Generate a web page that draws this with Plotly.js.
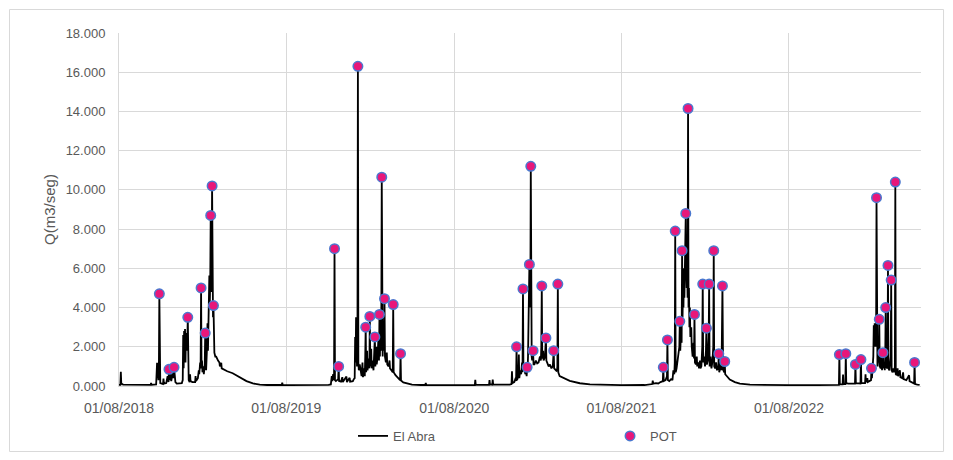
<!DOCTYPE html>
<html>
<head>
<meta charset="utf-8">
<script src="https://cdn.plot.ly/plotly-3.0.1.min.js"></script>
<style>
  html, body { margin: 0; padding: 0; background: #ffffff; }
  #chart { width: 953px; height: 460px; }
</style>
</head>
<body>
<div id="chart"></div>
<script>
// ---- El Abra daily discharge (key points), by hydrological year ----
const abraDates1 = ['2018-08-01','2018-08-04','2018-08-05','2018-08-06','2018-08-10','2018-09-15','2018-10-09','2018-10-10','2018-10-11','2018-10-21','2018-10-23','2018-10-24','2018-10-25','2018-10-26','2018-10-27','2018-10-28','2018-10-29','2018-10-30',
  '2018-11-05','2018-11-06','2018-11-07','2018-11-12','2018-11-15','2018-11-17','2018-11-18','2018-11-19','2018-11-21','2018-11-23','2018-11-26','2018-11-28','2018-11-29','2018-11-30','2018-12-02','2018-12-05','2018-12-16','2018-12-18','2018-12-19','2018-12-20','2018-12-21','2018-12-22','2018-12-23','2018-12-24','2018-12-25','2018-12-27','2018-12-28','2018-12-29','2018-12-30','2018-12-31',
  '2019-01-02','2019-01-03','2019-01-04','2019-01-08','2019-01-14','2019-01-15','2019-01-16','2019-01-20','2019-01-22','2019-01-23','2019-01-25','2019-01-26','2019-01-27','2019-01-28','2019-01-29','2019-01-30','2019-02-01','2019-02-02','2019-02-04','2019-02-05','2019-02-06','2019-02-07','2019-02-09','2019-02-10','2019-02-11','2019-02-12','2019-02-13','2019-02-14','2019-02-15','2019-02-16','2019-02-17','2019-02-18','2019-02-19','2019-02-20','2019-02-21','2019-02-22','2019-02-23','2019-02-24','2019-02-25','2019-02-27',
  '2019-03-01','2019-03-05','2019-03-08','2019-03-09','2019-03-12','2019-03-13','2019-03-17','2019-03-25','2019-04-06','2019-04-20','2019-05-06','2019-05-20','2019-06-04','2019-06-20','2019-07-22','2019-07-23','2019-07-24'];
const abraQ1 = [60,60,730,120,70,50,60,150,60,80,1180,400,1150,300,900,4700,300,150,
  100,380,120,150,500,200,850,300,600,250,700,400,950,500,200,120,150,300,2600,900,2800,1500,2900,1200,2700,1800,2200,3500,800,300,
  200,600,250,200,200,500,250,400,800,600,1200,900,5000,900,1300,700,1000,600,1100,2700,1300,800,2000,3200,1800,4500,3000,5630,4200,5400,8700,4800,6000,10200,5000,3500,4100,2500,1700,1500,
  1500,1300,1200,1000,1180,900,850,750,650,450,250,130,70,50,50,170,50];

const abraDates2 = ['2019-08-01','2019-09-15','2019-10-20','2019-11-01','2019-11-06','2019-11-08','2019-11-09','2019-11-11','2019-11-12','2019-11-13','2019-11-14','2019-11-15','2019-11-17','2019-11-20','2019-11-22','2019-11-23','2019-11-24','2019-11-28',
  '2019-12-01','2019-12-02','2019-12-10','2019-12-11','2019-12-17','2019-12-18','2019-12-24','2019-12-26','2019-12-28','2019-12-29','2019-12-30','2019-12-31','2020-01-01','2020-01-02','2020-01-03','2020-01-04','2020-01-05','2020-01-06','2020-01-08','2020-01-10',
  '2020-01-12','2020-01-14','2020-01-15','2020-01-18','2020-01-19','2020-01-20','2020-01-21','2020-01-22','2020-01-24','2020-01-25','2020-01-27','2020-01-29','2020-01-30','2020-01-31',
  '2020-02-02','2020-02-03','2020-02-05','2020-02-07','2020-02-09','2020-02-10','2020-02-11','2020-02-13','2020-02-14','2020-02-16','2020-02-18','2020-02-19','2020-02-20','2020-02-21','2020-02-22','2020-02-23','2020-02-24','2020-02-25','2020-02-26','2020-02-27','2020-02-28',
  '2020-03-01','2020-03-02','2020-03-03','2020-03-05','2020-03-07','2020-03-08','2020-03-11','2020-03-13','2020-03-14','2020-03-17','2020-03-20','2020-03-21','2020-03-22','2020-03-26','2020-03-30','2020-04-03','2020-04-05','2020-04-06','2020-04-07','2020-04-12','2020-04-21','2020-05-01','2020-05-20','2020-05-30','2020-05-31','2020-06-01','2020-07-31'];
const abraQ2 = [45,40,50,60,80,500,250,600,300,400,7000,300,250,300,350,1000,250,220,
  450,200,480,200,420,220,250,350,400,2500,1200,3500,1800,1000,1500,16300,1200,800,1100,600,
  500,1200,450,900,500,1500,3000,700,1800,800,1400,900,3550,1000,
  1900,900,1300,800,1600,2500,1000,2000,1100,1500,2600,1300,3650,1500,2800,1800,3000,10650,2000,1500,2500,
  1800,4450,1500,1200,1700,1100,1000,1300,900,800,700,4150,700,550,450,350,300,1650,280,180,110,70,50,50,150,50,40];

const abraDates3 = ['2020-08-01','2020-09-15','2020-09-16','2020-09-17','2020-10-16','2020-10-17','2020-10-18','2020-10-23','2020-10-24','2020-10-25','2020-11-30','2020-12-04','2020-12-05','2020-12-06','2020-12-10','2020-12-13','2020-12-14','2020-12-15','2020-12-16','2020-12-19','2020-12-20','2020-12-21','2020-12-23','2020-12-25','2020-12-27','2020-12-28','2020-12-29','2020-12-30',
  '2021-01-01','2021-01-03','2021-01-05','2021-01-06','2021-01-07','2021-01-08','2021-01-09','2021-01-10','2021-01-11','2021-01-12','2021-01-13','2021-01-14','2021-01-15','2021-01-16','2021-01-17','2021-01-18','2021-01-20','2021-01-21','2021-01-23','2021-01-26','2021-01-29',
  '2021-02-01','2021-02-04','2021-02-06','2021-02-07','2021-02-08','2021-02-09','2021-02-11','2021-02-12','2021-02-15','2021-02-16','2021-02-17','2021-02-18','2021-02-20','2021-02-23','2021-02-26',
  '2021-03-01','2021-03-04','2021-03-05','2021-03-06','2021-03-07','2021-03-10','2021-03-13','2021-03-14','2021-03-15','2021-03-16','2021-03-19','2021-04-10','2021-05-02','2021-05-24','2021-06-15','2021-07-31'];
const abraQ3 = [40,50,320,60,60,300,80,60,330,70,70,100,750,150,200,400,250,2000,300,500,1600,400,800,600,1200,700,4950,800,
  1000,600,700,500,950,800,1500,3500,5000,6200,5500,4000,11200,2500,1500,1300,1800,1100,1100,1300,1150,
  1200,1500,1300,2000,5100,1400,1800,1300,1500,2000,2450,1300,1200,1000,1100,
  900,1000,1300,1800,900,800,750,1000,5200,700,500,260,140,80,60,45];

const abraDates4 = ['2021-08-01','2021-09-20','2021-10-07','2021-10-08','2021-10-09','2021-10-15','2021-10-20','2021-10-25','2021-10-30','2021-10-31','2021-11-01','2021-11-05','2021-11-08','2021-11-09','2021-11-10','2021-11-13','2021-11-17','2021-11-20','2021-11-22','2021-11-24','2021-11-25','2021-11-26','2021-11-27','2021-11-29',
  '2021-12-01','2021-12-03','2021-12-05','2021-12-06','2021-12-07','2021-12-09','2021-12-10','2021-12-11','2021-12-12','2021-12-13','2021-12-14','2021-12-15','2021-12-16','2021-12-17','2021-12-18','2021-12-19','2021-12-20','2021-12-21','2021-12-22','2021-12-23','2021-12-24','2021-12-25','2021-12-26','2021-12-27','2021-12-28','2021-12-29','2021-12-31',
  '2022-01-01','2022-01-03','2022-01-05','2022-01-06','2022-01-07','2022-01-08','2022-01-10','2022-01-12','2022-01-13','2022-01-15','2022-01-17','2022-01-19','2022-01-20','2022-01-22','2022-01-24','2022-01-25','2022-01-26','2022-01-28','2022-01-30',
  '2022-02-01','2022-02-02','2022-02-03','2022-02-05','2022-02-07','2022-02-08','2022-02-09','2022-02-11','2022-02-13','2022-02-15','2022-02-17','2022-02-18','2022-02-19','2022-02-21','2022-02-23','2022-02-25','2022-02-28',
  '2022-03-01','2022-03-02','2022-03-04','2022-03-06','2022-03-07','2022-03-08','2022-03-09','2022-03-10','2022-03-11','2022-03-13','2022-03-14','2022-03-15','2022-03-20','2022-03-25','2022-04-05','2022-04-16','2022-05-08','2022-06-10','2022-07-31'];
const abraQ4 = [45,50,100,270,120,150,130,200,250,950,250,300,500,2350,300,250,350,300,800,600,1200,7900,700,900,
  1200,1500,2000,3300,1800,3000,2200,6900,3500,5000,4000,6000,4500,6500,5500,8800,6000,5000,6200,4500,14150,4000,5000,3000,4000,2500,3000,
  2000,1500,2200,1400,3650,1200,1100,1500,1000,1200,900,1300,900,1000,2000,5200,1200,1500,1000,
  1800,2950,1100,1300,2500,5200,1000,1500,900,1200,2000,6900,1000,900,1200,800,1000,
  1650,700,900,1300,800,2500,5100,2000,800,700,1250,600,450,330,200,120,70,50,45];

const abraDates5 = ['2022-08-01','2022-10-01','2022-11-10','2022-11-18','2022-11-19','2022-11-20','2022-11-26','2022-11-27','2022-11-28','2022-12-02','2022-12-03','2022-12-04','2022-12-08','2022-12-23','2022-12-24','2022-12-25',
  '2023-01-04','2023-01-05','2023-01-06','2023-01-14','2023-01-15','2023-01-16','2023-01-19','2023-01-20','2023-01-27','2023-01-28','2023-01-29',
  '2023-02-01','2023-02-02','2023-02-03','2023-02-04','2023-02-05','2023-02-06','2023-02-07','2023-02-08','2023-02-09','2023-02-10','2023-02-12','2023-02-13','2023-02-14','2023-02-15','2023-02-17','2023-02-19','2023-02-20','2023-02-22','2023-02-23','2023-02-25','2023-02-26','2023-02-27','2023-02-28',
  '2023-03-01','2023-03-03','2023-03-04','2023-03-05','2023-03-06','2023-03-08','2023-03-10','2023-03-11','2023-03-12','2023-03-13','2023-03-15','2023-03-17','2023-03-19','2023-03-20','2023-03-21','2023-03-22','2023-03-24','2023-03-26','2023-03-27','2023-03-31','2023-04-01','2023-04-05','2023-04-07','2023-04-08','2023-04-14','2023-04-20','2023-04-21','2023-04-26','2023-05-01','2023-05-02','2023-05-03','2023-05-08','2023-05-13'];
const abraQ5 = [45,45,50,60,1600,80,80,580,100,100,1650,150,120,120,1100,150,
  130,1350,150,150,600,200,400,200,300,900,400,
  1500,3100,2000,3200,2500,3000,2000,9600,1500,1000,1500,1200,3400,1000,900,1500,800,1700,900,1200,800,1500,4000,
  1000,900,1500,6150,900,800,1200,1500,5400,800,700,900,700,1000,10400,600,550,900,500,800,450,400,700,350,300,550,250,180,130,1200,100,70,60];

// ---- POT (peaks over threshold) ----
const potDates = ['2018-10-28','2018-11-18','2018-11-29','2018-12-29','2019-01-27','2019-02-05','2019-02-17','2019-02-20','2019-02-23',
  '2019-11-14','2019-11-23','2020-01-04','2020-01-21','2020-01-30','2020-02-10','2020-02-20','2020-02-25','2020-03-02','2020-03-21','2020-04-06',
  '2020-12-15','2020-12-29','2021-01-07','2021-01-12','2021-01-15','2021-01-20','2021-02-08','2021-02-17','2021-03-06','2021-03-15',
  '2021-10-31','2021-11-09','2021-11-26','2021-12-06','2021-12-11','2021-12-19','2021-12-24','2022-01-07','2022-01-25','2022-02-02','2022-02-08','2022-02-18','2022-03-01','2022-03-09','2022-03-14',
  '2022-11-19','2022-12-03','2022-12-24','2023-01-05','2023-01-28','2023-02-08','2023-02-14','2023-02-22','2023-02-28','2023-03-05','2023-03-12','2023-03-21','2023-05-02'];
const potQ = [4700,850,950,3500,5000,2700,8700,10200,4100,
  7000,1000,16300,3000,3550,2500,3650,10650,4450,4150,1650,
  2000,4950,950,6200,11200,1800,5100,2450,1800,5200,
  950,2350,7900,3300,6900,8800,14150,3650,5200,2950,5200,6900,1650,5100,1250,
  1600,1650,1100,1350,900,9600,3400,1700,4000,6150,5400,10400,1200];

// ---- axes ----
const xTickVals = ['2018-08-01','2019-08-01','2020-08-01','2021-08-01','2022-08-01'];
const xTickText = ['01/08/2018','01/08/2019','01/08/2020','01/08/2021','01/08/2022'];
const yTickVals = [0,2000,4000,6000,8000,10000,12000,14000,16000,18000];
const yTickText = ['0.000','2.000','4.000','6.000','8.000','10.000','12.000','14.000','16.000','18.000'];

const abraDates = [].concat(abraDates1, abraDates2, abraDates3, abraDates4, abraDates5);
const abraQ = [].concat(abraQ1, abraQ2, abraQ3, abraQ4, abraQ5);

const FONT = 'Liberation Sans, Arial, sans-serif';
const TXT = '#595959';
const GRID = '#d9d9d9';

const traces = [
  {
    type: 'scatter', mode: 'lines', name: 'El Abra',
    x: abraDates, y: abraQ,
    line: {color: '#000000', width: 1.8}
  },
  {
    type: 'scatter', mode: 'markers', name: 'POT',
    x: potDates, y: potQ,
    marker: {color: '#e8177a', size: 9.5, line: {color: '#4a78cf', width: 1.5}}
  }
];

const layout = {
  width: 953, height: 460,
  margin: {l: 119, r: 32, t: 33, b: 74, autoexpand: false},
  paper_bgcolor: '#ffffff', plot_bgcolor: '#ffffff',
  font: {family: FONT, color: TXT, size: 13},
  showlegend: true,
  legend: {
    orientation: 'h', x: 0.2918, xanchor: 'left', y: -0.099, yanchor: 'top',
    entrywidth: 212, entrywidthmode: 'pixels',
    font: {family: FONT, color: TXT, size: 13},
    bgcolor: 'rgba(0,0,0,0)'
  },
  xaxis: {
    type: 'date',
    range: ['2018-08-01', '2023-05-16'],
    tickmode: 'array', tickvals: xTickVals, ticktext: xTickText,
    showgrid: true, gridcolor: GRID, gridwidth: 1,
    showline: true, linecolor: GRID, linewidth: 1,
    ticks: '', ticklabelstandoff: 9,
    tickfont: {family: FONT, color: TXT, size: 14},
    zeroline: false, automargin: false
  },
  yaxis: {
    range: [0, 18000],
    tickmode: 'array', tickvals: yTickVals, ticktext: yTickText,
    showgrid: true, gridcolor: GRID, gridwidth: 1,
    showline: true, linecolor: GRID, linewidth: 1,
    ticks: '', ticklabelstandoff: 10,
    tickfont: {family: FONT, color: TXT, size: 13},
    zeroline: false, automargin: false,
    title: {text: 'Q(m3/seg)', font: {family: FONT, color: TXT, size: 15}, standoff: 6}
  },
  shapes: [
    {type: 'rect', xref: 'paper', yref: 'paper',
     x0: -0.1365, x1: 1.0281, y0: -0.1856, y1: 1.0666,
     line: {color: '#d9d9d9', width: 1}, fillcolor: 'rgba(0,0,0,0)', layer: 'below'}
  ]
};

Plotly.newPlot('chart', traces, layout, {staticPlot: true, displayModeBar: false});
</script>
</body>
</html>
